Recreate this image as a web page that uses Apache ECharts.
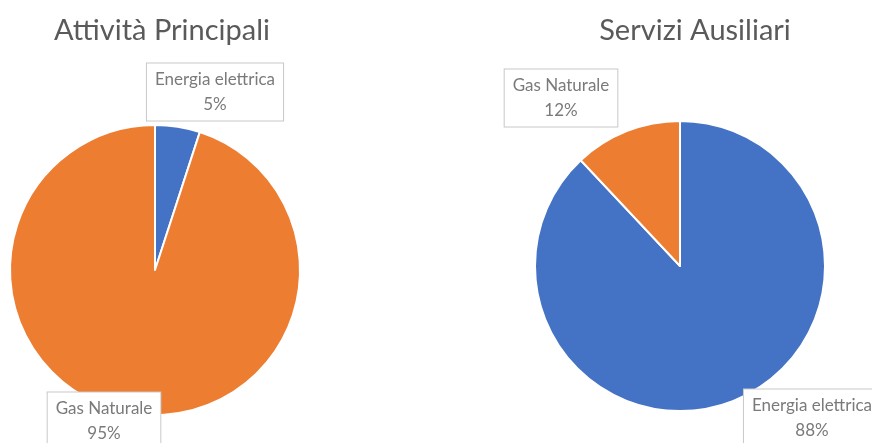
<!DOCTYPE html>
<html>
<head>
<meta charset="utf-8">
<script src="https://cdn.jsdelivr.net/npm/echarts@6/dist/echarts.min.js"></script>
<style>
  html, body { margin: 0; padding: 0; background: #fff; }
  #chart { width: 872px; height: 443px; }
</style>
</head>
<body>
<div id="chart"></div>
<script>
// Energy source shares for the two plant areas
const categories = ['Energia elettrica', 'Gas Naturale'];
const principaliValues = [5, 95];
const ausiliariValues = [88, 12];
const chartTitles = ['Attività Principali', 'Servizi Ausiliari'];

const colors = ['#4472C4', '#ED7D31'];
const textFont = 'Lato, "Noto Sans", sans-serif';

function toData(values) {
  return categories.map((name, i) => ({ name, value: values[i] }));
}

// Hand-placed callout boxes, indexed [series][dataIndex]
const labelSpots = [
  [{ x: 215, y: 92 }, { x: 104, y: 421 }],
  [{ x: 812, y: 418 }, { x: 561, y: 98 }]
];

const labelStyle = {
  show: true,
  formatter: p => p.name + '\n' + p.value + '%',
  color: '#7a7a7a',
  fontFamily: textFont,
  fontSize: 17,
  lineHeight: 25,
  align: 'center',
  backgroundColor: '#ffffff',
  borderColor: '#c8c8c8',
  borderWidth: 1,
  padding: [4, 8, 3, 8]
};

function pieSeries(values, center, idx) {
  return {
    type: 'pie',
    center: center,
    radius: 145,
    startAngle: 90,
    clockwise: true,
    avoidLabelOverlap: false,
    data: toData(values),
    itemStyle: { borderColor: '#ffffff', borderWidth: 2 },
    label: labelStyle,
    labelLine: { show: false },
    labelLayout: p => {
      const s = labelSpots[idx][p.dataIndex];
      return { x: s.x, y: s.y, align: 'center', verticalAlign: 'middle' };
    },
    emphasis: { disabled: true },
    silent: true
  };
}

const titleText = { fontFamily: textFont, fontSize: 29, fontWeight: 'normal', color: '#5a5a5a' };

const chart = echarts.init(document.getElementById('chart'));
chart.setOption({
  animation: false,
  color: colors,
  title: [
    { text: chartTitles[0], left: 157, top: 11, textAlign: 'center', textStyle: titleText },
    { text: chartTitles[1], left: 690, top: 11, textAlign: 'center', textStyle: titleText }
  ],
  series: [
    pieSeries(principaliValues, [155, 270], 0),
    pieSeries(ausiliariValues, [680, 266], 1)
  ]
});
</script>
</body>
</html>
